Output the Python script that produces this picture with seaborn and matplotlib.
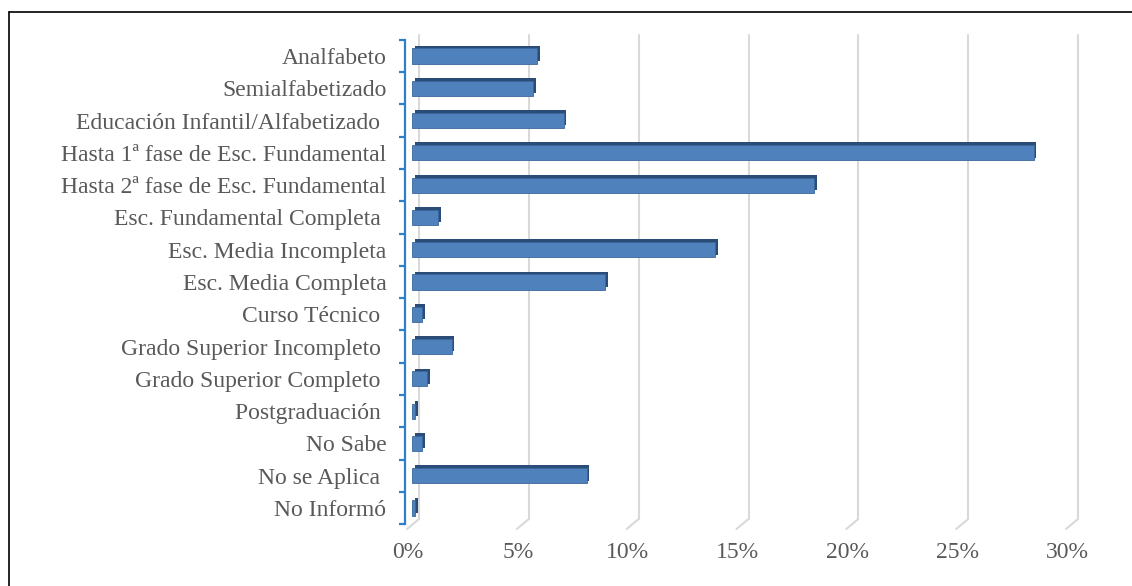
import matplotlib
matplotlib.use("Agg")
import matplotlib.pyplot as plt
import matplotlib.patheffects as pe
from matplotlib.lines import Line2D
from matplotlib.transforms import ScaledTranslation
from matplotlib.ticker import FixedLocator, PercentFormatter
import seaborn as sns

categories = [
    "Analfabeto",
    "Semialfabetizado",
    "Educación Infantil/Alfabetizado ",
    "Hasta 1ª fase de Esc. Fundamental",
    "Hasta 2ª fase de Esc. Fundamental",
    "Esc. Fundamental Completa ",
    "Esc. Media Incompleta",
    "Esc. Media Completa",
    "Curso Técnico ",
    "Grado Superior Incompleto ",
    "Grado Superior Completo ",
    "Postgraduación ",
    "No Sabe",
    "No se Aplica ",
    "No Informó",
]
percent = [5.7, 5.5, 6.9, 28.3, 18.3, 1.2, 13.8, 8.8, 0.45, 1.8, 0.7, 0.15, 0.45, 7.95, 0.15]
x_ticks = [0, 5, 10, 15, 20, 25, 30]

bar_color = "#4f81bd"
side_color = "#2c4c78"
axis_blue = "#2e7fc8"
grid_color = "#d9d9d9"
text_color = "#595959"

sns.set_style("white")
plt.rcParams["font.family"] = ["Liberation Serif", "DejaVu Serif"]

W, H = 1132, 586
fig = plt.figure(figsize=(W / 100, H / 100), dpi=100)
ax_left, ax_right = 412, 1071
ax_top, ax_bottom = 39.85, 524.2
ax = fig.add_axes([ax_left / W, 1 - ax_bottom / H, (ax_right - ax_left) / W, (ax_bottom - ax_top) / H])

sns.barplot(x=percent, y=categories, orient="h", color=bar_color, saturation=1,
            width=0.47, edgecolor="#3b679c", linewidth=0.6, ax=ax, zorder=3)
for p in ax.patches:
    p.set_path_effects([pe.SimplePatchShadow(offset=(2, 2), shadow_rgbFace=side_color, alpha=1),
                        pe.Normal()])

ax.set_xlim(0, 30)
ax.set_ylim(len(categories) - 0.5, -0.5)
ax.set_xlabel("")
ax.set_ylabel("")

# pseudo-3D gridlines (back wall + floor foot)
px = (ax_right - ax_left) / 30.0
xtr = ax.get_xaxis_transform()
for v in x_ticks:
    xb = v + 7 / px
    xf = v - 5 / px
    ax.plot([xb, xb], [1.01, 0.0107], transform=xtr, color=grid_color, lw=1.5,
            zorder=0, clip_on=False)
    ax.plot([xb, xf], [0.0107, -0.0099], transform=xtr, color=grid_color, lw=1.5,
            zorder=0, clip_on=False)

for s in ["top", "right", "bottom"]:
    ax.spines[s].set_visible(False)
ax.spines["left"].set_position(("outward", 5))
ax.spines["left"].set_color(axis_blue)
ax.spines["left"].set_linewidth(1.6)

ax.yaxis.set_minor_locator(FixedLocator([i - 0.5 for i in range(len(categories) + 1)]))
ax.tick_params(axis="y", which="major", length=0, pad=13.5, labelsize=17, labelcolor=text_color)
ax.tick_params(axis="y", which="minor", length=4.5, width=1.6, color=axis_blue, left=True)

ax.set_xticks(x_ticks)
ax.xaxis.set_major_formatter(PercentFormatter(decimals=0))
ax.tick_params(axis="x", length=0, pad=13, labelsize=17, labelcolor=text_color)
shift = ScaledTranslation(-4 / 100, 0, fig.dpi_scale_trans)
for lab in ax.get_xticklabels():
    lab.set_transform(lab.get_transform() + shift)

# outer frame (left and top edges visible)
fig.add_artist(Line2D([8.5 / W, 8.5 / W], [0, 1 - 12 / H], color="black", lw=1.2))
fig.add_artist(Line2D([8.5 / W, 1], [1 - 12 / H, 1 - 12 / H], color="black", lw=1.2))

fig.savefig("out.png", dpi=100)
